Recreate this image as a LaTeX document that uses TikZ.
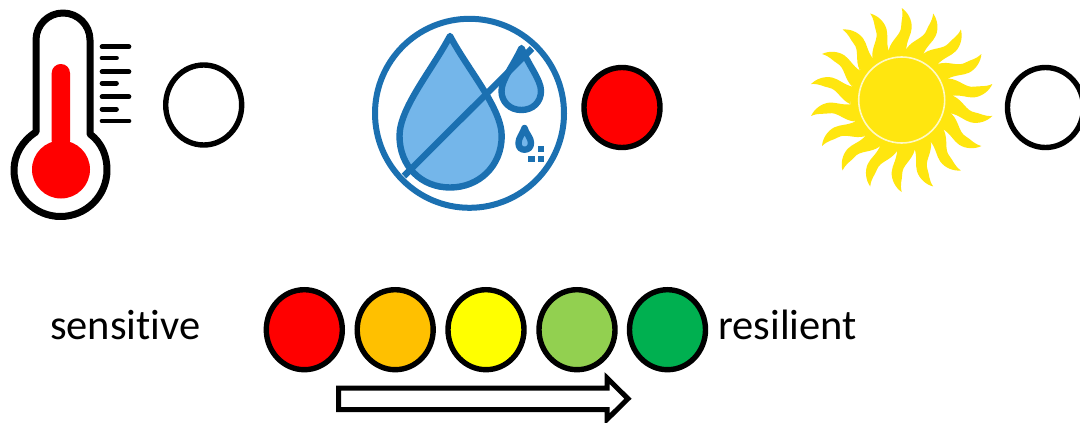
\documentclass[tikz,border=0pt]{standalone}
\usepackage{fontspec}
\setmainfont{Carlito}[Ligatures=NoCommon]
\usetikzlibrary{shapes.geometric}
\definecolor{wblue}{HTML}{1B70B1}
\definecolor{wlight}{HTML}{74B6EA}
\definecolor{sunyel}{HTML}{FFE60F}
\definecolor{lampred}{HTML}{FF0000}
\definecolor{lamporange}{HTML}{FFC000}
\definecolor{lampyellow}{HTML}{FFFF00}
\definecolor{lamplime}{HTML}{92D050}
\definecolor{lampgreen}{HTML}{00B050}
\tikzset{
  x=1pt,y=-1pt,
  lamp/.style={ellipse,draw=black,line width=5.4pt,minimum width=76pt,minimum height=80pt,inner sep=0pt},
  label text/.style={font=\fontsize{42.5}{50}\selectfont,text=black,inner sep=0pt},
  ticklong/.style={line width=4.7pt,line cap=round},
  wline/.style={draw=wblue,line width=6.4pt,line join=round},
}
\begin{document}
\begin{tikzpicture}
\clip (0,0) rectangle (1080,423);
\fill[white] (0,0) rectangle (1080,423);
% thermometer
\fill[lampred] (61,169.5) circle (29);
\fill[lampred,rounded corners=9pt] (51.7,150) -- (51.7,64) -- (70,64) -- (70,150) -- cycle;
\draw[line width=7pt,line join=round] (36,132) -- (36,40) arc[start angle=180,end angle=360,radius=27] -- (90,134)
  .. controls (102,143) and (107,156) .. (107,170)
  .. controls (107,196) and (86,216.5) .. (60.5,216.5)
  .. controls (35,216.5) and (14,196) .. (14,170)
  .. controls (14,155) and (22,141) .. (36,132) -- cycle;
\foreach \yy/\xe in {46.7/129,58/116.5,71.7/129,83.3/116.5,96.7/129,109.3/116.5,121/129}
  \draw[ticklong] (102,\yy) -- (\xe,\yy);
\node[lamp] (t) at (203.7,105) {};
% water
\draw[draw=wblue,line width=6pt] (469.5,113.3) circle (94.5);
\draw[wline,fill=wlight] (450,36) .. controls (432,70) and (399.5,108) .. (399.5,136)
  .. controls (399.5,166) and (421,187.5) .. (450,187.5)
  .. controls (479,187.5) and (501.7,166) .. (501.7,136)
  .. controls (501.7,108) and (468,70) .. (450,36) -- cycle;
\draw[wline,fill=wlight] (521.5,48) .. controls (513,66) and (501.5,80) .. (501.5,91)
  .. controls (501.5,102) and (510,110) .. (521.3,110)
  .. controls (533,110) and (541,102) .. (541,91)
  .. controls (541,80) and (529,66) .. (521.5,48) -- cycle;
\draw[draw=wblue,line width=6.4pt] (404,176) -- (532,48.5);
\draw[wline,fill=wlight] (524.5,128) .. controls (522,135) and (518.5,138) .. (518.5,143)
  .. controls (518.5,147.5) and (521,149.7) .. (524.5,149.7)
  .. controls (528,149.7) and (531,147.5) .. (531,143)
  .. controls (531,138) and (527,135) .. (524.5,128) -- cycle;
\fill[wblue] (537.7,146) rectangle +(6.6,6.4);
\fill[wblue] (528.2,155.7) rectangle +(6.4,6.6);
\fill[wblue] (537.7,155.7) rectangle +(6.6,6.6);
\node[lamp,fill=lampred] (w) at (622,107.5) {};
% sun
\begin{scope}[shift={(901.7,100)}]
  \foreach \a in {0,20,...,340}{
    \fill[sunyel,rotate=\a] (0,-92) .. controls (6,-88) and (10.5,-80) .. (10,-72)
       .. controls (9.5,-65) and (5,-60) .. (4.5,-50)
       -- (-13,-50) .. controls (-10,-61) and (-0.5,-65) .. (-0.5,-74)
       .. controls (-0.5,-80) and (2,-84) .. (0,-92) -- cycle;
  }
  \fill[sunyel] (0,0) circle (51.5);
  \draw[white!75!sunyel,line width=1.6pt] (0,0) circle (43);
\end{scope}
\node[lamp] (s) at (1045.5,107.5) {};
% scale
\node[label text,anchor=base west] (sens) at (50,339.5) {sensitive};
\node[lamp,fill=lampred] (c1) at (304.3,329.7) {};
\node[lamp,fill=lamporange] (c2) at (395.2,329.7) {};
\node[lamp,fill=lampyellow] (c3) at (486,329.7) {};
\node[lamp,fill=lamplime] (c4) at (577,329.7) {};
\node[lamp,fill=lampgreen] (c5) at (667.5,329.7) {};
\node[label text,anchor=base west] (res) at (718,339) {resilient};
\draw[line width=5pt,fill=white,miter limit=10] (338.5,388) -- (607,388) -- (607,378) -- (628,398.7) -- (607,419.4) -- (607,409.5) -- (338.5,409.5) -- cycle;
\end{tikzpicture}
\end{document}
